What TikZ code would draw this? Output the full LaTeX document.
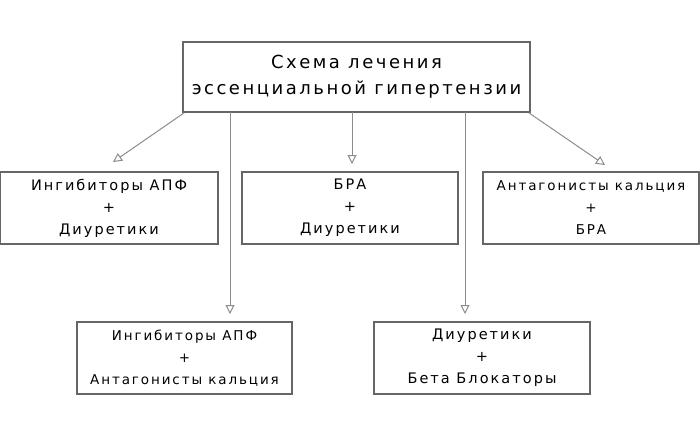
\documentclass[tikz,border=0pt]{standalone}
\usepackage{fontspec}
\setmainfont{DejaVu Sans}[LetterSpace=14]
\usetikzlibrary{arrows.meta}
\begin{document}
\begin{tikzpicture}[x=1pt,y=-1pt,
  box/.style={draw=gray!80!black,line width=1.5pt,fill=white,align=center,inner sep=0pt},
  arr/.style={draw=gray!90,line width=1pt,-{Triangle[open,length=9pt,width=9pt]}}]
\useasboundingbox (0,0) rectangle (700,421);
\node[box,minimum width=347pt,minimum height=70pt,font=\fontsize{18}{26}\selectfont] (top) at (356.5,77) {Схема лечения\\эссенциальной гипертензии};
\node[box,minimum width=218pt,minimum height=72pt,font=\fontsize{14.5}{22}\selectfont] (l) at (109,208) {Ингибиторы АПФ\\+\\Диуретики};
\node[box,minimum width=216pt,minimum height=72pt,font=\fontsize{14.5}{22}\selectfont] (m) at (350,208) {БРА\\+\\Диуретики};
\node[box,minimum width=216pt,minimum height=72pt,font=\fontsize{13.5}{22}\selectfont] (r) at (591,208) {Антагонисты кальция\\+\\БРА};
\node[box,minimum width=215pt,minimum height=72pt,font=\fontsize{13.5}{22}\selectfont] (bl) at (184.5,358) {Ингибиторы АПФ\\+\\Антагонисты кальция};
\node[box,minimum width=216pt,minimum height=72pt,font=\fontsize{14.5}{22}\selectfont] (br) at (482,358) {Диуретики\\+\\Бета Блокаторы};
\coordinate (a1) at (113,162);
\coordinate (a2) at (352,164);
\coordinate (a3) at (605,165);
\coordinate (a4) at (230,314);
\coordinate (a5) at (465,314);
\draw[arr] (top.south west) ++(2,0) -- (a1);
\draw[arr] (352,112) -- (a2);
\draw[arr] (top.south east) ++(-2,0) -- (a3);
\draw[arr] (230,112) -- (a4);
\draw[arr] (465,112) -- (a5);
\end{tikzpicture}
\end{document}
